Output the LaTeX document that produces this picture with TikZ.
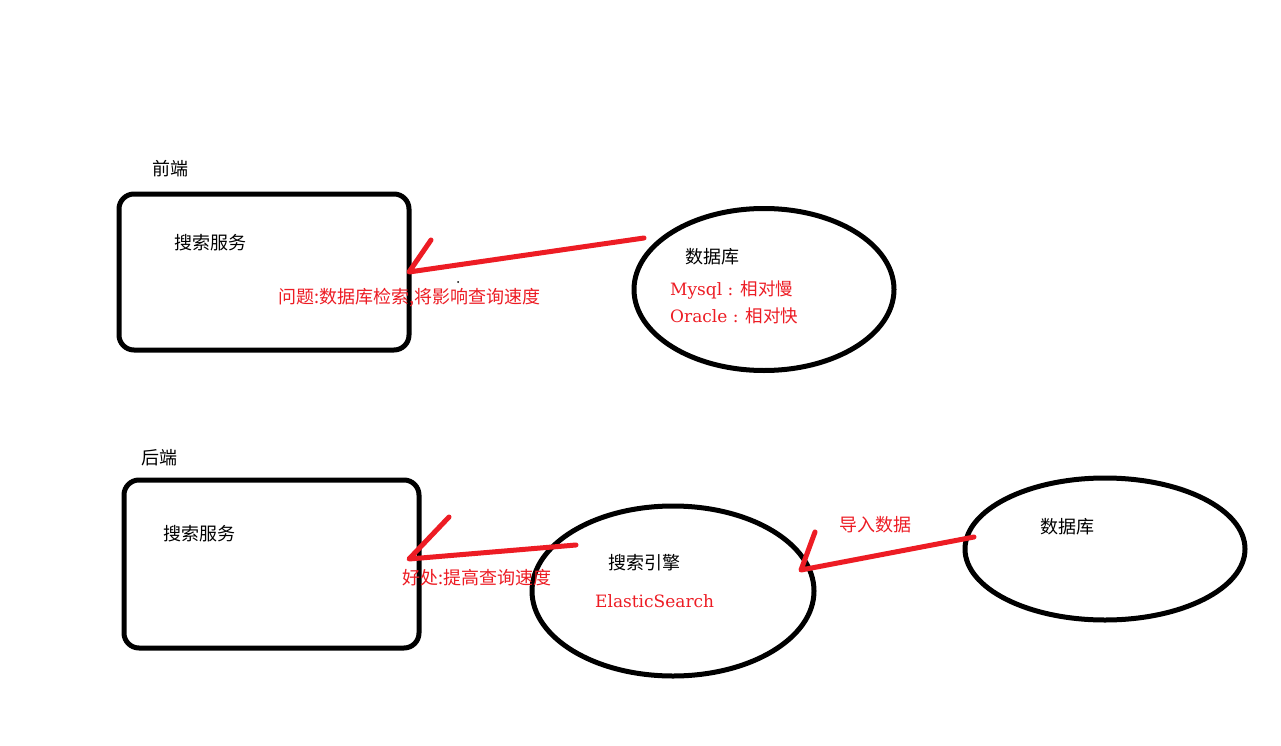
\documentclass[tikz,border=0pt]{standalone}
\usepackage{fontspec}
\setmainfont{DejaVu Serif}
\newfontfamily\cjk{Noto Sans CJK SC}
\definecolor{redink}{RGB}{237,28,36}
\tikzset{x=1pt,y=-1pt,
  box/.style={draw=black,line width=5pt,rounded corners=15pt},
  oval/.style={draw=black,line width=5pt},
  arrowline/.style={draw=redink,line width=5pt,line cap=round,line join=round},
  blk/.style={text=black,font=\fontsize{18}{20}\selectfont\cjk,inner sep=0pt},
  redt/.style={text=redink,font=\fontsize{18}{20}\selectfont\cjk,inner sep=0pt},
  redl/.style={text=redink,font=\fontsize{17}{20}\selectfont,inner sep=0pt}}
\begin{document}
\begin{tikzpicture}
\useasboundingbox (0,0) rectangle (1281,746);
\fill[white] (0,0) rectangle (1281,746);
\draw[box] (119,194) rectangle (409,350);
\draw[box] (124,480) rectangle (419,648);
\draw[oval] (764,289.5) ellipse [x radius=130,y radius=81];
\draw[oval] (673,591) ellipse [x radius=141,y radius=85];
\draw[oval] (1105,549) ellipse [x radius=140,y radius=71];
\node[blk] (t1) at (170,169) {前端};
\node[blk] (t2) at (210,243) {搜索服务};
\node[blk] (t3) at (712,257) {数据库};
\node[redt,anchor=west] (t4) at (278,298) {问题:数据库检索,将影响查询速度};
\node[redl,anchor=west] (t5) at (670,290) {Mysql : {\fontsize{17.5}{20}\selectfont\cjk 相对慢}};
\node[redl,anchor=west] (t6) at (670,316) {Oracle : {\fontsize{17.5}{20}\selectfont\cjk 相对快}};
\node[blk] (t7) at (159,458) {后端};
\node[blk] (t8) at (199,534) {搜索服务};
\node[blk] (t9) at (644,563) {搜索引擎};
\node[redl,anchor=west] (t10) at (595,601) {ElasticSearch};
\node[redt,anchor=west] (t11) at (402,578) {好处:提高查询速度};
\node[redt] (t12) at (875,525) {导入数据};
\node[blk] (t13) at (1067,527) {数据库};
\fill[black] (458,282) circle (1);
\coordinate (a1) at (644,238); \coordinate (a2) at (409,272); \coordinate (a3) at (431,240);
\coordinate (b1) at (576,545); \coordinate (b2) at (409,559); \coordinate (b3) at (449,517);
\coordinate (c1) at (974,537); \coordinate (c2) at (801,570); \coordinate (c3) at (815,532);
\draw[arrowline] (a1) -- (a2) -- (a3);
\draw[arrowline] (b1) -- (b2) -- (b3);
\draw[arrowline] (c1) -- (c2) -- (c3);
\end{tikzpicture}
\end{document}
